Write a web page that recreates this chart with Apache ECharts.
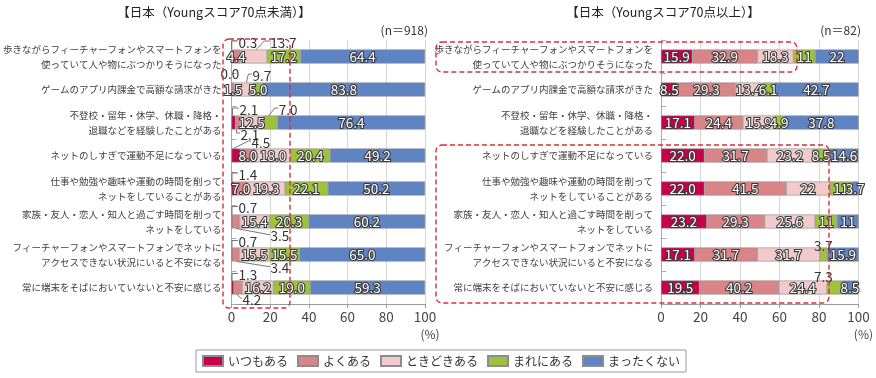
<!DOCTYPE html>
<html><head><meta charset="utf-8">
<script src="https://cdn.jsdelivr.net/npm/echarts@6/dist/echarts.min.js"></script>
<style>html,body{margin:0;padding:0;background:#fff}#c{width:876px;height:378px}</style>
</head><body><div id="c"></div>
<script>
// ---------- data ----------
const categories = [
  '歩きながらフィーチャーフォンやスマートフォンを\n使っていて人や物にぶつかりそうになった',
  'ゲームのアプリ内課金で高額な請求がきた',
  '不登校・留年・休学、休職・降格・\n退職などを経験したことがある',
  'ネットのしすぎで運動不足になっている',
  '仕事や勉強や趣味や運動の時間を削って\nネットをしていることがある',
  '家族・友人・恋人・知人と過ごす時間を削って\nネットをしている',
  'フィーチャーフォンやスマートフォンでネットに\nアクセスできない状況にいると不安になる',
  '常に端末をそばにおいていないと不安に感じる'
];
const seriesNames = ['いつもある', 'よくある', 'ときどきある', 'まれにある', 'まったくない'];

// 日本（Youngスコア70点未満） n=918
const lowAlways    = ['0.3', '0.0', '2.1', '4.5', '1.4', '0.7', '0.7', '1.3'];
const lowOften     = ['4.4', '1.5', '2.1', '8.0', '7.0', '3.5', '3.4', '4.2'];
const lowSometimes = ['13.7', '9.7', '12.5', '18.0', '19.3', '15.4', '15.5', '16.2'];
const lowRarely    = ['17.2', '5.0', '7.0', '20.4', '22.1', '20.3', '15.5', '19.0'];
const lowNever     = ['64.4', '83.8', '76.4', '49.2', '50.2', '60.2', '65.0', '59.3'];

// 日本（Youngスコア70点以上） n=82
const highAlways    = ['15.9', '8.5', '17.1', '22.0', '22.0', '23.2', '17.1', '19.5'];
const highOften     = ['32.9', '29.3', '24.4', '31.7', '41.5', '29.3', '31.7', '40.2'];
const highSometimes = ['18.3', '13.4', '15.9', '23.2', '22', '25.6', '31.7', '24.4'];
const highRarely    = ['11', '6.1', '4.9', '8.5', '11', '11', '3.7', '7.3'];
const highNever     = ['22', '42.7', '37.8', '14.6', '3.7', '11', '15.9', '8.5'];

const titles = ['【日本（Youngスコア70点未満）】', '【日本（Youngスコア70点以上）】'];
const sampleLabels = ['(n＝918)', '(n＝82)'];
const xMin = 0, xMax = 100, xInterval = 20;
const xUnit = '(%)';

// ---------- style ----------
const FONT = '"Noto Sans CJK JP", "Noto Sans", sans-serif';
const COLORS = ['#C6004B', '#D98588', '#F2CACB', '#9DC23B', '#5F84C4'];
const BAR_W = 14;
const VAL_FS = 13.5;

// callouts drawn outside the bars (placement only)
const lowCallouts = [
  {row:0, seg:0, side:'top', ox:7, oy:7, sx:0.3, elbow:true},
  {row:0, seg:2, side:'top', ox:29.7, oy:7, sx:15.7, bx:-6},
  {row:1, seg:0, side:'top', ox:-11, oy:8.5},
  {row:1, seg:2, side:'top', ox:18, oy:7, sx:12, bx:-4},
  {row:2, seg:0, side:'top', ox:8, oy:6, sx:1, elbow:true},
  {row:2, seg:3, side:'top', ox:15, oy:6, sx:5, bx:-4},
  {row:2, seg:1, side:'bottom', ox:5, oy:5, sx:1, elbow:true},
  {row:3, seg:0, side:'top', ox:20, oy:6, sx:2, bx:-3},
  {row:4, seg:0, side:'top', ox:7, oy:7, sx:0.5, elbow:true},
  {row:5, seg:0, side:'top', ox:7, oy:6.5, sx:0.5, elbow:true},
  {row:5, seg:1, side:'bottom', ox:37.6, oy:7.5, sx:3.5, bx:-2},
  {row:6, seg:0, side:'top', ox:7, oy:5.5, sx:0.5, elbow:true},
  {row:6, seg:1, side:'bottom', ox:37.6, oy:6.5, sx:4, bx:-2},
  {row:7, seg:0, side:'top', ox:7, oy:5.5, sx:0.5, elbow:true},
  {row:7, seg:1, side:'bottom', ox:8.4, oy:5.5, sx:2.5, bx:-1}
];
const highCallouts = [
  {row:6, seg:3, side:'top', ox:-6, oy:2},
  {row:7, seg:3, side:'top', ox:-13, oy:3.5}
];

const lowGroups = [lowAlways, lowOften, lowSometimes, lowRarely, lowNever];
const highGroups = [highAlways, highOften, highSometimes, highRarely, highNever];

function isCallout(specs, row, seg) {
  return specs.some(s => s.row === row && s.seg === seg);
}

function barSeries(gi, groups, specs, stack) {
  return groups.map((vals, seg) => ({
    name: seriesNames[seg], type: 'bar', stack: stack,
    xAxisIndex: gi, yAxisIndex: gi, barWidth: BAR_W,
    itemStyle: {color: COLORS[seg], borderColor: '#8c8c8c', borderWidth: 0.6},
    label: {
      show: true, position: 'inside', formatter: p => vals[p.dataIndex],
      color: '#fff', textBorderColor: '#3a3a3a', textBorderWidth: 2.2,
      fontSize: VAL_FS, fontFamily: FONT
    },
    data: vals.map((v, row) => isCallout(specs, row, seg) ? {value: +v, label: {show: false}} : +v)
  }));
}

function calloutSeries(gi, groups, specs) {
  const data = specs.map((s, i) => {
    let start = 0;
    for (let k = 0; k < s.seg; k++) start += +groups[k][s.row];
    const end = start + (+groups[s.seg][s.row]);
    return [start, s.row, end, i];
  });
  return {
    type: 'custom', xAxisIndex: gi, yAxisIndex: gi, z: 10, silent: true,
    encode: {x: [0, 2], y: 1},
    data: data,
    renderItem: function (params, api) {
      const s = specs[api.value(3)];
      const p0 = api.coord([api.value(0), api.value(1)]);
      const half = BAR_W / 2;
      const edge = s.side === 'top' ? p0[1] - half : p0[1] + half;
      const ly = s.side === 'top' ? edge - s.oy : edge + s.oy;
      const lx = p0[0] + s.ox;
      const children = [];
      if (s.sx != null) {
        const sx = p0[0] + s.sx;
        const lineY = ly - 1.5;
        const pts = s.elbow
          ? [[sx, edge], [sx, lineY], [lx - 0.5, lineY]]
          : [[sx, edge], [lx + s.bx, lineY], [lx - 0.5, lineY]];
        children.push({type: 'polyline', shape: {points: pts},
          style: {stroke: '#555', lineWidth: 0.8, fill: null}});
      }
      children.push({type: 'text', style: {
        text: groups[s.seg][s.row], x: lx, y: ly,
        align: 'left', verticalAlign: 'middle',
        fill: '#333', fontSize: VAL_FS, fontFamily: FONT
      }});
      return {type: 'group', children: children};
    }
  };
}

function makeX(gi) {
  return {
    gridIndex: gi, type: 'value', min: xMin, max: xMax, interval: xInterval,
    axisLine: {show: true, lineStyle: {color: '#9a9a9a'}},
    axisTick: {show: true, length: 4, lineStyle: {color: '#9a9a9a'}},
    splitLine: {show: true, lineStyle: {color: '#d6d6d6'}},
    axisLabel: {fontSize: 13.5, color: '#444', margin: 6, fontFamily: FONT},
    name: xUnit, nameLocation: 'end', nameGap: 5,
    nameTextStyle: {fontSize: 12, color: '#444', align: 'center', verticalAlign: 'top',
      padding: [24, 0, 0, 0], fontFamily: FONT}
  };
}
function makeY(gi, margin) {
  return {
    gridIndex: gi, type: 'category', data: categories, inverse: true,
    axisLine: {show: true, lineStyle: {color: '#aaa'}},
    axisTick: {show: true, inside: true, length: 5, lineStyle: {color: '#aaa'}},
    axisLabel: {margin: margin, fontSize: 9.5, color: '#404040', lineHeight: 15, fontFamily: FONT}
  };
}

const dashed = {fill: 'none', stroke: '#D4303A', lineWidth: 1.4, lineDash: [5, 3]};

const option = {
  animation: false,
  textStyle: {fontFamily: FONT},
  grid: [
    {left: 228, right: 451, top: 40, bottom: 74},
    {left: 661, right: 17, top: 40, bottom: 74}
  ],
  xAxis: [makeX(0), makeX(1)],
  yAxis: [makeY(0, 10), makeY(1, 8)],
  legend: {
    data: seriesNames, left: 196, top: 350, itemWidth: 20, itemHeight: 10, itemGap: 9,
    icon: 'rect', borderColor: '#999', borderWidth: 1, padding: [5, 6],
    textStyle: {fontSize: 12, color: '#333', fontFamily: FONT}
  },
  graphic: [
    {type: 'text', x: 214, y: 12, style: {text: titles[0], align: 'center', textAlign: 'center',
      verticalAlign: 'middle', textVerticalAlign: 'middle', fill: '#222', fontSize: 12.5, fontFamily: FONT}},
    {type: 'text', x: 663, y: 12, style: {text: titles[1], align: 'center', textAlign: 'center',
      verticalAlign: 'middle', textVerticalAlign: 'middle', fill: '#222', fontSize: 12.5, fontFamily: FONT}},
    {type: 'text', x: 428, y: 30, style: {text: sampleLabels[0], align: 'right', textAlign: 'right',
      verticalAlign: 'middle', textVerticalAlign: 'middle', fill: '#333', fontSize: 12, fontFamily: FONT}},
    {type: 'text', x: 861, y: 30, style: {text: sampleLabels[1], align: 'right', textAlign: 'right',
      verticalAlign: 'middle', textVerticalAlign: 'middle', fill: '#333', fontSize: 12, fontFamily: FONT}},
    {type: 'rect', z: 100, shape: {x: 223, y: 39, width: 67, height: 269, r: 6}, style: dashed},
    {type: 'rect', z: 100, shape: {x: 436, y: 42, width: 361, height: 30, r: 6}, style: dashed},
    {type: 'rect', z: 100, shape: {x: 436, y: 145, width: 393, height: 158, r: 6}, style: dashed}
  ],
  series: [].concat(
    barSeries(0, lowGroups, lowCallouts, 'low'),
    barSeries(1, highGroups, highCallouts, 'high'),
    [calloutSeries(0, lowGroups, lowCallouts), calloutSeries(1, highGroups, highCallouts)]
  )
};

const chart = echarts.init(document.getElementById('c'), null, {renderer: 'canvas'});
chart.setOption(option);
</script>
</body></html>
